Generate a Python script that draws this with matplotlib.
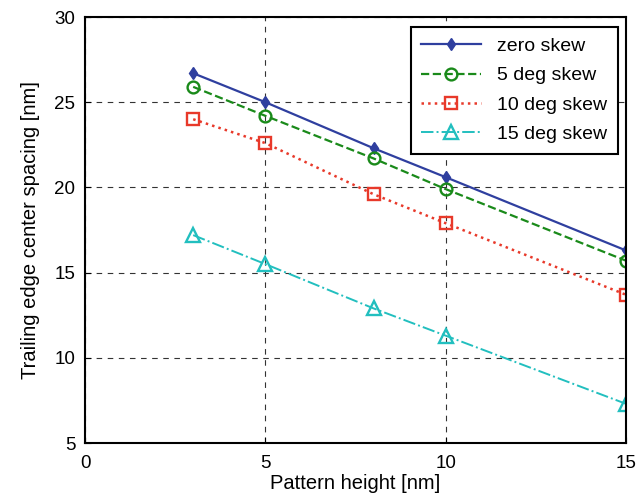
import numpy as np
import matplotlib
matplotlib.use("Agg")
import matplotlib.pyplot as plt

plt.rcParams['font.family'] = ['Liberation Sans', 'DejaVu Sans']

# pattern height [nm]
heights = [3, 5, 8, 10, 15]
# trailing edge center spacing [nm] per skew angle
zero_skew = [26.7, 25.0, 22.3, 20.6, 16.3]
skew5 = [25.9, 24.2, 21.7, 19.9, 15.7]
skew10 = [24.0, 22.6, 19.6, 17.9, 13.7]
skew15 = [17.2, 15.5, 12.9, 11.3, 7.3]

fig = plt.figure(figsize=(6.44, 5.0), dpi=100)
ax = fig.add_axes([0.132, 0.114, 0.840, 0.852])

ax.plot(heights, zero_skew, '-', color='#2f3f9f', lw=1.6, marker='d', ms=6,
        mfc='#2f3f9f', mec='#2f3f9f', label='zero skew')
ax.plot(heights, skew5, '--', color='#1a8a1a', lw=1.6, marker='o', ms=8.5,
        mfc='none', mec='#1a8a1a', mew=1.7, label='5 deg skew')
ax.plot(heights, skew10, ':', color='#e8392a', lw=1.8, marker='s', ms=8,
        mfc='none', mec='#e8392a', mew=1.7, label='10 deg skew')
ax.plot(heights, skew15, '-.', color='#22bfbf', lw=1.4, marker='^', ms=9.5,
        mfc='none', mec='#22bfbf', mew=1.7, label='15 deg skew')

ax.set_xlim(0, 15)
ax.set_ylim(5, 30)
ax.set_xticks([0, 5, 10, 15])
ax.set_yticks([5, 10, 15, 20, 25, 30])
ax.grid(True, color='#333333', linestyle=(0, (5, 5)), lw=0.8)
ax.tick_params(direction='in', labelsize=13.5, length=4, top=False, right=False)
ax.tick_params(axis='y', pad=7)
ax.tick_params(axis='x', pad=9)
for s in ax.spines.values():
    s.set_linewidth(1.5)

ax.set_xlabel('Pattern height [nm]', fontsize=14.5, labelpad=1)
ax.set_ylabel('Trailing edge center spacing [nm]', fontsize=14.5, labelpad=10)

leg = ax.legend(loc='upper right', fontsize=14, fancybox=False, framealpha=1,
                edgecolor='black', borderpad=0.55, handlelength=3.1,
                labelspacing=0.6, borderaxespad=0,
                bbox_to_anchor=(0.985, 0.977))
leg.get_frame().set_linewidth(1.5)

fig.savefig('out.png', dpi=100)
